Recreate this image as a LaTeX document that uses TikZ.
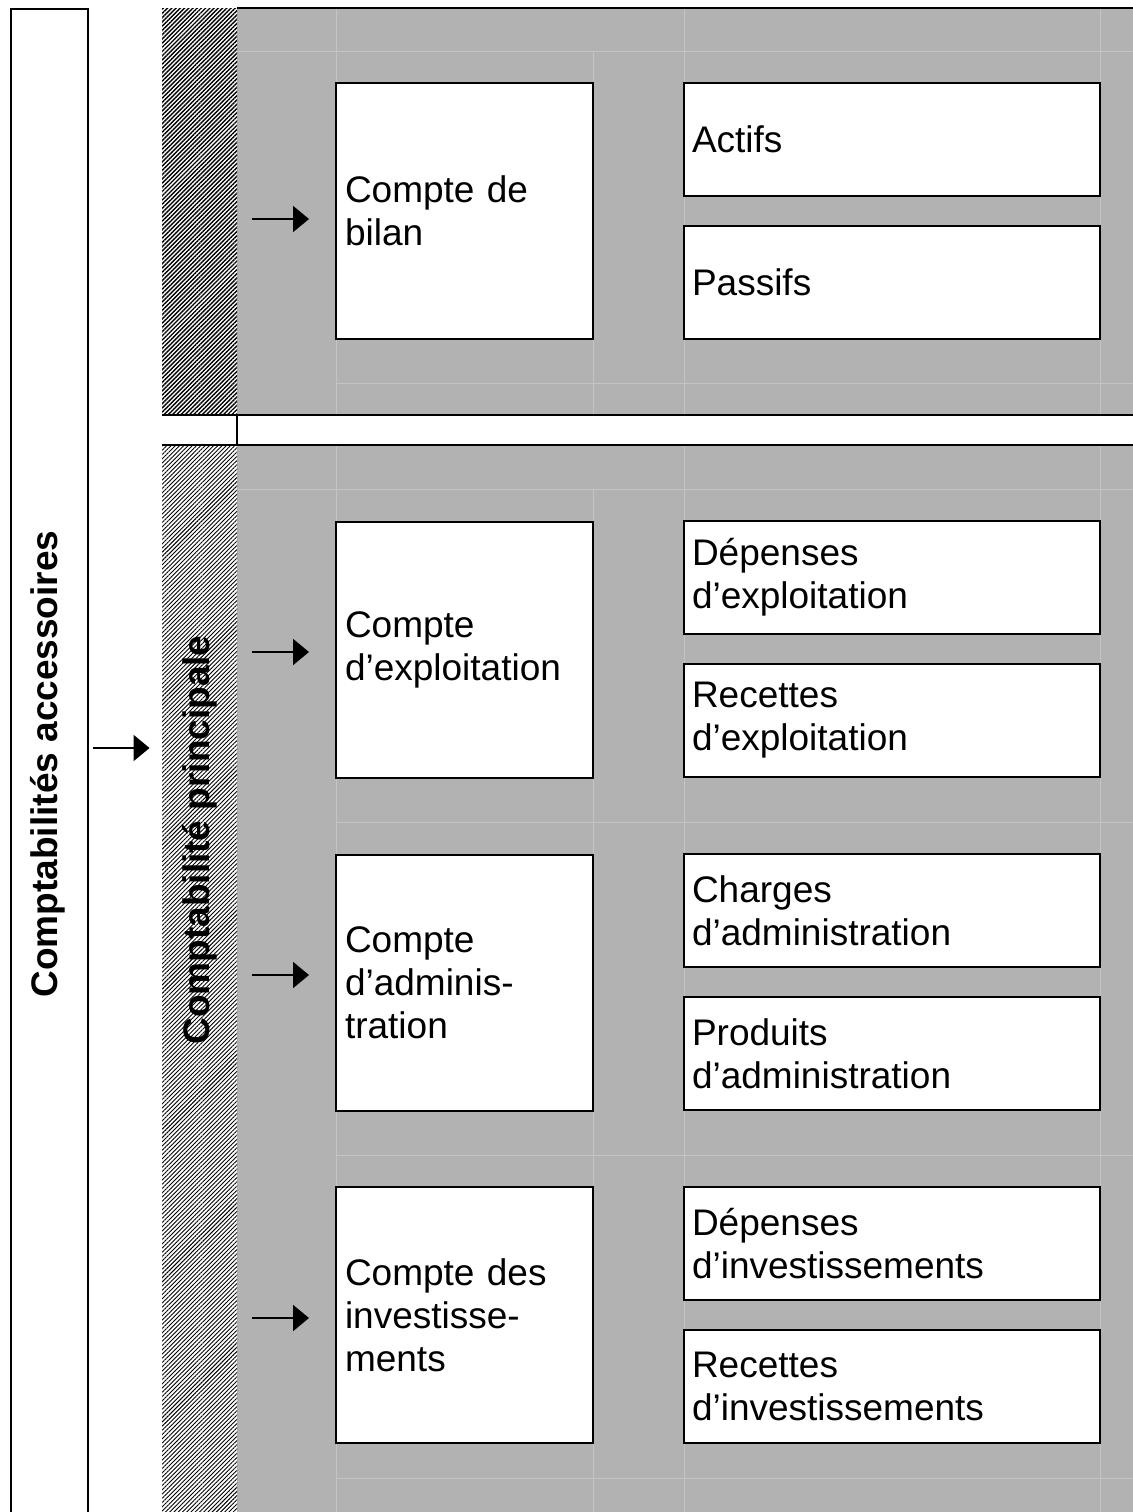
\documentclass[tikz,border=0pt]{standalone}
\usepackage{fontspec}
\setmainfont{Liberation Sans}
\usetikzlibrary{positioning, arrows.meta, patterns.meta}

\definecolor{fond}{RGB}{178,178,178}
\definecolor{filet}{RGB}{196,196,196}

\tikzset{
  compte/.style={draw, line width=1pt, fill=white, align=left, inner xsep=4.5pt,
    text width=119.5pt, minimum width=128.5pt, minimum height=128pt},
  poste/.style={draw, line width=1pt, fill=white, align=left, inner xsep=4pt,
    text width=200pt, minimum width=208pt, minimum height=56.5pt},
  bandesombre/.style={fill=white, pattern={Lines[angle=45,distance=1.5pt,line width=0.7pt]},
    minimum width=37.5pt, inner sep=0pt},
  bandeclaire/.style={fill=white, pattern={Lines[angle=45,distance=1.5pt,line width=0.45pt]},
    minimum width=37.5pt, inner sep=0pt},
  fleche/.style={line width=1pt, -{Triangle[length=8pt,width=13pt]}},
  titre/.style={rotate=90, font=\fontsize{18.5}{21.5}\selectfont\bfseries}
}

\begin{document}
\begin{tikzpicture}[x=0.5pt, y=-0.5pt, font=\fontsize{18.5}{21.5}\selectfont]
\useasboundingbox (0,0) rectangle (1133,1512);

% fonds gris
\fill[fond] (237,8) rectangle (1140,415);
\fill[fond] (237,445) rectangle (1140,1530);
\draw[filet, line width=0.5pt]
  (237,51) -- (1140,51) (336,383) -- (1140,383)
  (237,489) -- (1140,489) (336,822) -- (1140,822)
  (336,1155) -- (1140,1155) (336,1478) -- (1140,1478)
  (336,8) -- (336,415) (593,51) -- (593,415) (684,8) -- (684,415) (1100,8) -- (1100,415)
  (336,445) -- (336,1530) (593,489) -- (593,1530) (684,445) -- (684,1530) (1100,445) -- (1100,1530);

% bandes hachurees
\node[bandesombre, minimum height=203.5pt] (principal) at (199.5,211.5) {};
\node[bandeclaire, minimum height=542.5pt] (principale) at (199.5,987.5) {};
\node[titre] (lbprinc) at (200,840) {Comptabilité principale};

% bordures
\draw[line width=1pt] (237,8) -- (1140,8);
\draw[line width=1pt] (162,415) -- (1140,415) (162,445) -- (1140,445) (237,415) -- (237,445);

% comptabilites accessoires
\node[draw, line width=1pt, minimum width=38.5pt, minimum height=770pt, anchor=north west,
  inner sep=0pt] (accbox) at (10,8) {};
\node[titre] (lbacc) at (48,764) {Comptabilités accessoires};
\coordinate (a0) at (87,748);
\draw[fleche, shorten <=3pt, shorten >=6pt] (a0) -- (a0 -| principale.west);

% comptes
\node[compte] (bilan) at (464.5,211) {Compte de\\bilan};
\node[poste] (actifs) at (892,139.5) {Actifs};
\node[poste, below=14pt of actifs] (passifs) {Passifs};

\node[compte] (exploit) at (464.5,649.5) {Compte\\d’exploitation};
\node[poste] (depexp) at (892,577.5) {Dépenses\\d’exploitation};
\node[poste, below=14pt of depexp] (recexp) {Recettes\\d’exploitation};

\node[compte] (admin) at (464.5,982.5) {Compte\\d’adminis-\\tration};
\node[poste] (chadm) at (892,910.5) {Charges\\d’administration};
\node[poste, below=14pt of chadm] (pradm) {Produits\\d’administration};

\node[compte] (invest) at (464.5,1315) {Compte des\\investisse-\\ments};
\node[poste] (depinv) at (892,1243.5) {Dépenses\\d’investissements};
\node[poste, below=14pt of depinv] (recinv) {Recettes\\d’investissements};

% fleches vers les comptes
\coordinate (a1) at (252,219);
\coordinate (a2) at (252,652);
\coordinate (a3) at (252,975);
\coordinate (a4) at (252,1318);
\draw[fleche, shorten >=13pt] (a1) -- (a1 -| bilan.west);
\draw[fleche, shorten >=13pt] (a2) -- (a2 -| exploit.west);
\draw[fleche, shorten >=13pt] (a3) -- (a3 -| admin.west);
\draw[fleche, shorten >=13pt] (a4) -- (a4 -| invest.west);

\end{tikzpicture}
\end{document}
